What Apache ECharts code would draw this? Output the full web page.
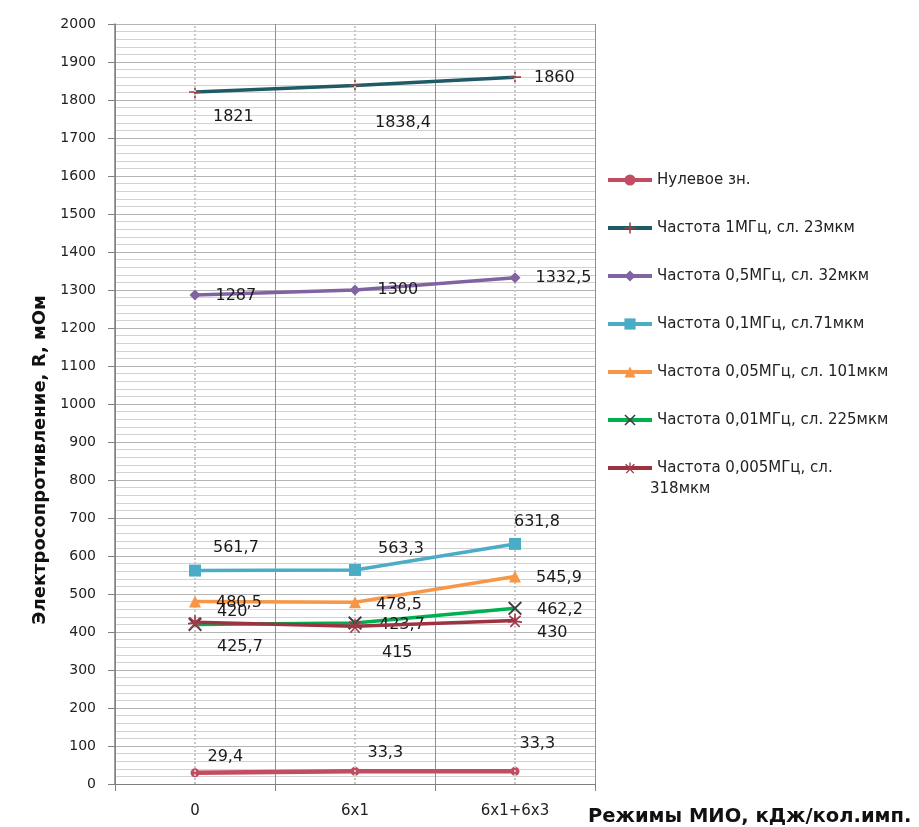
<!DOCTYPE html>
<html><head><meta charset="utf-8">
<script src="https://cdn.jsdelivr.net/npm/echarts@6/dist/echarts.min.js"></script>
<style>html,body{margin:0;padding:0;background:#fff}#c{width:919px;height:827px}</style>
</head><body><div id="c"></div>
<script>
// ---------- data ----------
const categories = ['0', '6x1', '6x1+6x3'];
const names = [
  'Нулевое зн.',
  'Частота 1МГц, сл. 23мкм',
  'Частота 0,5МГц, сл. 32мкм',
  'Частота 0,1МГц, сл.71мкм',
  'Частота 0,05МГц, сл. 101мкм',
  'Частота 0,01МГц, сл. 225мкм',
  'Частота 0,005МГц, сл. 318мкм'
];
const zeroVals  = [29.4, 33.3, 33.3];
const f1MHz     = [1821, 1838.4, 1860];
const f05MHz    = [1287, 1300, 1332.5];
const f01MHz    = [561.7, 563.3, 631.8];
const f005MHz   = [480.5, 478.5, 545.9];
const f001MHz   = [420, 423.7, 462.2];
const f0005MHz  = [425.7, 415, 430];
const yMin = 0, yMax = 2000, yStep = 100;

// ---------- styles ----------
const FONT = 'DejaVu Sans';
const styles = [
  {color:'#C24D63', line:'#C24D63', symbol:'circle', size:9, width:4.5,
   off:[[3,-16],[3,-19],[-5,-28]]},
  {color:'#A04040', line:'#1F5B67', symbol:'path://M4.3,0H5.7V4.3H10V5.7H5.7V10H4.3V5.7H0V4.3H4.3Z', size:12, width:3.5,
   off:[[7,25],[9,37],[8,1]]},
  {color:'#8064A2', line:'#8064A2', symbol:'diamond', size:11, width:3.5,
   off:[[10,1],[12,0],[10,0]]},
  {color:'#4BACC6', line:'#4BACC6', symbol:'rect', size:12, width:3.5,
   off:[[7,-23],[12,-21],[-12,-22]]},
  {color:'#F79646', line:'#F79646', symbol:'triangle', size:12, width:3.5,
   off:[[10,1],[10,3],[10,1]]},
  {color:'#404040', line:'#00B050', symbol:'path://M0,1L1,0L5,4L9,0L10,1L6,5L10,9L9,10L5,6L1,10L0,9L4,5Z', size:14, width:3.5,
   off:[[10,-13],[12,2],[10,1]]},
  {color:'#A03A48', line:'#9B3341', symbol:'path://M4.4,0H5.6V3.6L8.6,1.1L9.4,2L6.2,4.8L10,5.3V6.5L6,6.1L8.8,9L7.9,9.8L5,6.7L2.1,9.8L1.2,9L4,6.1L0,6.5V5.3L3.8,4.8L0.6,2L1.4,1.1L4.4,3.6Z', size:14, width:3.5,
   off:[[10,25],[15,27],[10,12]]}
];
const values = [zeroVals, f1MHz, f05MHz, f01MHz, f005MHz, f001MHz, f0005MHz];

const fmt = p => String(p.value).replace('.', ',');

const series = values.map((vals, i) => {
  const s = styles[i];
  return {
    name: names[i],
    type: 'line',
    data: vals.map((v, j) => ({value: v, label: {offset: s.off[j]}})),
    symbol: s.symbol,
    symbolSize: s.size,
    itemStyle: {color: s.color},
    lineStyle: {color: s.line, width: s.width},
    z: 3 + i,
    label: {show: true, position: 'right', formatter: fmt,
            fontFamily: FONT, fontSize: 16, color: '#1a1a1a'},
    emphasis: {disabled: true}
  };
});
series[0].markLine = {
  silent: true, symbol: 'none', label: {show: false},
  lineStyle: {color: '#c8c8c8', type: 'dotted', width: 2},
  data: categories.map(c => ({xAxis: c}))
};

const chart = echarts.init(document.getElementById('c'));
chart.setOption({
  animation: false,
  backgroundColor: '#ffffff',
  grid: {left: 115, right: 324, top: 24, bottom: 43},
  xAxis: {
    type: 'category', data: categories, boundaryGap: true,
    axisLine: {lineStyle: {color: '#808080', width: 1}},
    axisTick: {show: true, length: 7, lineStyle: {color: '#808080'}},
    axisLabel: {fontFamily: FONT, fontSize: 15, color: '#222', margin: 20},
    splitLine: {show: true, lineStyle: {color: '#909090', width: 1}}
  },
  yAxis: {
    type: 'value', min: yMin, max: yMax, interval: yStep,
    axisLine: {show: true, lineStyle: {color: '#808080', width: 1.5}},
    axisTick: {show: true, length: 7, lineStyle: {color: '#808080'}},
    axisLabel: {fontFamily: FONT, fontSize: 14, color: '#222', margin: 19,
                formatter: v => String(v)},
    splitLine: {show: true, lineStyle: {color: '#b4b4b4', width: 1}},
    minorTick: {show: false, splitNumber: 5},
    minorSplitLine: {show: true, lineStyle: {color: '#d2d2d2', width: 1}}
  },
  legend: {
    orient: 'vertical', left: 601, top: 166, itemGap: 30,
    itemWidth: 44, itemHeight: 14,
    lineStyle: {width: 4},
    textStyle: {fontFamily: FONT, fontSize: 15, color: '#222', lineHeight: 18},
    formatter: n => n === names[6] ? 'Частота 0,005МГц, сл.' : n,
    data: names
  },
  graphic: [
    {type: 'text', x: 40, y: 460, rotation: Math.PI / 2,
     style: {text: 'Электросопротивление, R, мОм', font: 'bold 18px "DejaVu Sans"',
             fill: '#111', align: 'center', verticalAlign: 'middle',
             textAlign: 'center', textVerticalAlign: 'middle'}},
    {type: 'text', x: 588, y: 817,
     style: {text: 'Режимы МИО, кДж/кол.имп.', font: 'bold 19.5px "DejaVu Sans"',
             fill: '#111', align: 'left', verticalAlign: 'middle',
             textAlign: 'left', textVerticalAlign: 'middle'}},
    {type: 'text', x: 650, y: 489,
     style: {text: '318мкм', font: '15px "DejaVu Sans"', fill: '#222',
             align: 'left', verticalAlign: 'middle',
             textAlign: 'left', textVerticalAlign: 'middle'}}
  ],
  series: series
});
</script>
</body></html>
